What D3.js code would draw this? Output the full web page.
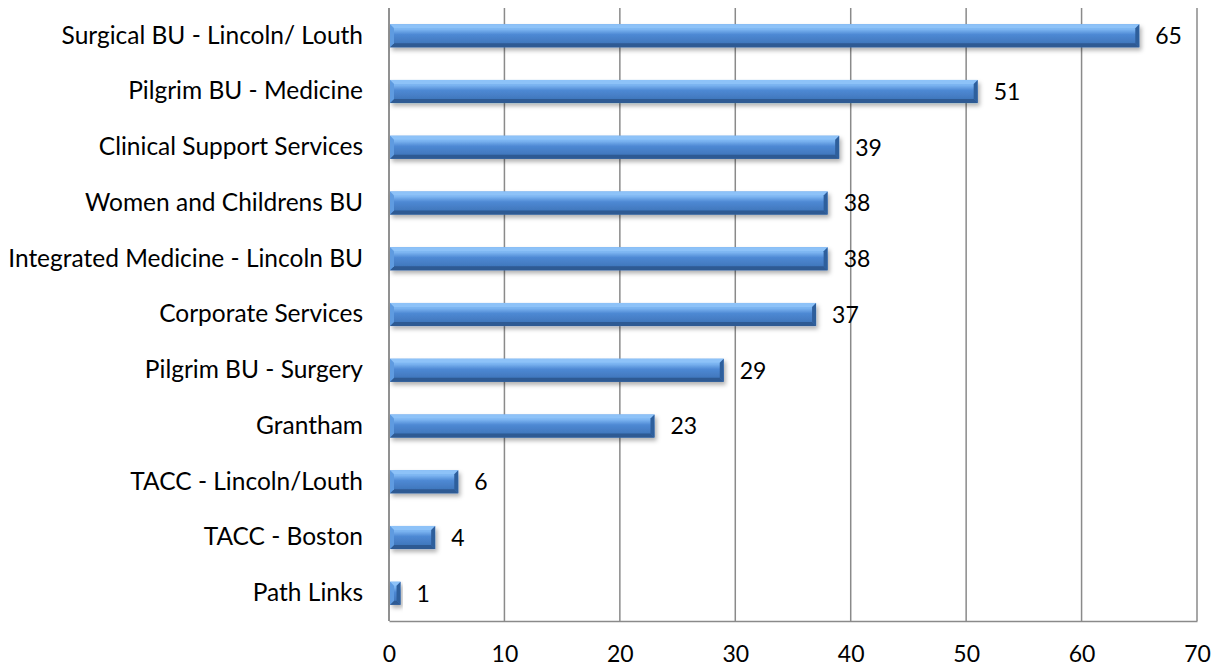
<!DOCTYPE html>
<html>
<head>
<meta charset="utf-8">
<script src="https://cdn.jsdelivr.net/npm/d3@7"></script>
<style>
  html, body { margin: 0; padding: 0; background: #fff; }
  svg { display: block; font-family: Lato, "Open Sans", sans-serif; }
</style>
</head>
<body>
<svg id="chart" width="1219" height="671"></svg>
<script>
// Headcount by business unit
const categories = [
  "Surgical BU - Lincoln/ Louth",
  "Pilgrim BU - Medicine",
  "Clinical Support Services",
  "Women and Childrens BU",
  "Integrated Medicine - Lincoln BU",
  "Corporate Services",
  "Pilgrim BU - Surgery",
  "Grantham",
  "TACC - Lincoln/Louth",
  "TACC - Boston",
  "Path Links"
];
const values = [65, 51, 39, 38, 38, 37, 29, 23, 6, 4, 1];
const xTicks = [0, 10, 20, 30, 40, 50, 60, 70];

const svg = d3.select("#chart");
const margin = { top: 8, right: 22, bottom: 50, left: 389 };
const W = 1219, H = 671;
const innerW = W - margin.left - margin.right;
const innerH = H - margin.top - margin.bottom;

const x = d3.scaleLinear().domain([0, 70]).range([0, innerW]);
const y = d3.scaleBand().domain(categories).range([0, innerH]).paddingInner(0.585).paddingOuter(0.29);

const defs = svg.append("defs");
const grad = defs.append("linearGradient").attr("id", "barFace")
  .attr("x1", 0).attr("y1", 0).attr("x2", 0).attr("y2", 1);
grad.append("stop").attr("offset", "0%").attr("stop-color", "#6ea8ea");
grad.append("stop").attr("offset", "22%").attr("stop-color", "#7db6f2");
grad.append("stop").attr("offset", "45%").attr("stop-color", "#4e89d4");
grad.append("stop").attr("offset", "100%").attr("stop-color", "#3a6fb2");

const shadow = defs.append("filter").attr("id", "barShadow")
  .attr("x", "-10%").attr("y", "-30%").attr("width", "130%").attr("height", "180%");
shadow.append("feDropShadow").attr("dx", 2).attr("dy", 3).attr("stdDeviation", 2)
  .attr("flood-color", "#000").attr("flood-opacity", 0.3);

const g = svg.append("g").attr("transform", `translate(${margin.left},${margin.top})`);

// vertical gridlines
g.append("g").selectAll("line").data(xTicks).join("line")
  .attr("x1", d => x(d)).attr("x2", d => x(d))
  .attr("y1", 0).attr("y2", innerH)
  .attr("stroke", "#8a8a8a").attr("stroke-width", 1.5);

// bottom axis
const xAxis = g.append("g").attr("transform", `translate(0,${innerH})`)
  .call(d3.axisBottom(x).tickValues(xTicks).tickSize(0).tickPadding(25).tickFormat(d3.format("d")));
xAxis.select(".domain").attr("stroke", "#8a8a8a").attr("stroke-width", 1.5);
xAxis.selectAll("text").attr("font-size", 23).attr("fill", "#000").attr("font-family", "Lato, sans-serif");

// left axis
const yAxis = g.append("g")
  .call(d3.axisLeft(y).tickSize(0).tickPadding(26));
yAxis.select(".domain").remove();
g.append("line").attr("x1", 0).attr("x2", 0).attr("y1", 0).attr("y2", innerH)
  .attr("stroke", "#8a8a8a").attr("stroke-width", 1.5);
yAxis.selectAll("text").attr("font-size", 24.5).attr("fill", "#000").attr("font-family", "Lato, sans-serif");

// bevelled bars
const data = categories.map((c, i) => ({ c, v: values[i] }));
const bars = g.append("g").selectAll("g").data(data).join("g")
  .attr("filter", "url(#barShadow)");

bars.each(function(d) {
  const sel = d3.select(this);
  const x0 = x(0) + 1, x1 = x(d.v);
  const y0 = y(d.c), y1 = y(d.c) + y.bandwidth();
  const b = Math.min(4, (x1 - x0) / 2.5);
  sel.append("rect").attr("x", x0).attr("y", y0)
    .attr("width", x1 - x0).attr("height", y1 - y0).attr("fill", "url(#barFace)");
  const poly = (pts, fill) => sel.append("polygon")
    .attr("points", pts.map(p => p.join(",")).join(" ")).attr("fill", fill);
  poly([[x0, y0], [x1, y0], [x1 - b, y0 + b], [x0 + b, y0 + b]], "#8dc2f8");
  poly([[x0, y1], [x1, y1], [x1 - b, y1 - b], [x0 + b, y1 - b]], "#2d5a93");
  poly([[x0, y0], [x0 + b, y0 + b], [x0 + b, y1 - b], [x0, y1]], "#5f9be0");
  poly([[x1, y0], [x1 - b, y0 + b], [x1 - b, y1 - b], [x1, y1]], "#2f5e9c");
});

// value labels
g.append("g").selectAll("text").data(data).join("text")
  .attr("x", d => x(d.v) + 16)
  .attr("y", d => y(d.c) + y.bandwidth() / 2)
  .attr("dy", "0.36em")
  .attr("font-size", 23)
  .attr("fill", "#000")
  .text(d => d.v);
</script>
</body>
</html>
